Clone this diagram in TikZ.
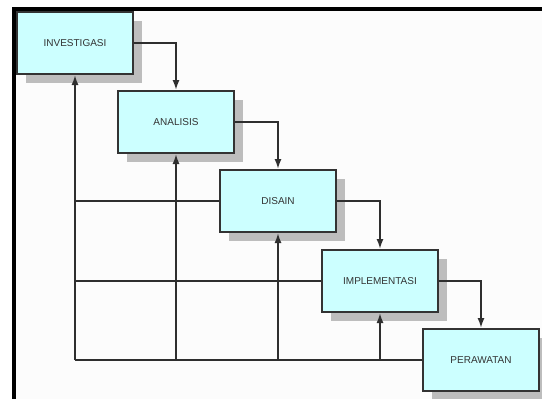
\documentclass[tikz,border=0pt]{standalone}
\usepackage{fontspec}
\setmainfont{Liberation Sans}
\usetikzlibrary{arrows.meta}
\definecolor{boxfill}{HTML}{CCFFFF}
\definecolor{boxline}{HTML}{333333}
\definecolor{shadowc}{HTML}{BDBDBD}
\definecolor{linec}{HTML}{2E2E2E}
\definecolor{txtc}{HTML}{333333}
\tikzset{
  phase/.style={draw=boxline, line width=2pt, fill=boxfill, minimum width=116pt, minimum height=62pt,
    inner sep=0pt, font=\fontsize{10}{12}\selectfont, text=txtc},
  conn/.style={draw=linec, line width=1.7pt},
  arr/.style={conn, -{Latex[length=10pt,width=7pt]}},
  jdot/.style={circle, fill=linec, inner sep=0pt, minimum size=3.5pt}
}
\begin{document}
\begin{tikzpicture}[x=1pt,y=-1pt]
\useasboundingbox (0,0) rectangle (542,399);
\clip (0,0) rectangle (542,399);
\fill[white] (0,0) rectangle (542,399);
\fill[black!1] (14,9) rectangle (542,399);
\draw[black, line width=4pt] (14,399) -- (14,9) -- (542,9);
% shadows
\foreach \cx/\cy in {75/43, 176/122, 278/201, 380/281, 481/360}{
  \fill[shadowc] (\cx-58+9,\cy-31+9) rectangle (\cx+58+9,\cy+31+9);
}
% boxes
\node[phase] (inv) at (75,43) {INVESTIGASI};
\node[phase] (ana) at (176,122) {ANALISIS};
\node[phase] (dis) at (278,201) {DISAIN};
\node[phase] (imp) at (380,281) {IMPLEMENTASI};
\node[phase] (per) at (481,360) {PERAWATAN};
% forward arrows
\draw[arr] (inv.east) -| (ana.north);
\draw[arr] (ana.east) -| (dis.north);
\draw[arr] (dis.east) -| (imp.north);
\draw[arr] (imp.east) -| (per.north);
% feedback lines
\coordinate (b1) at (inv.south |- per.west);
\coordinate (b2) at (ana.south |- per.west);
\coordinate (b3) at (dis.south |- per.west);
\coordinate (b4) at (imp.south |- per.west);
\draw[conn] (per.west) -- (b1);
\draw[conn] (b1 |- dis.west) -- (dis.west);
\draw[conn] (b1 |- imp.west) -- (imp.west);
\draw[arr] (b1) -- (inv.south);
\draw[arr] (b2) -- (ana.south);
\draw[arr] (b3) -- (dis.south);
\draw[arr] (b4) -- (imp.south);
\node[jdot] (j1) at (ana.south |- dis.west) {};
\node[jdot] (j2) at (ana.south |- imp.west) {};
\node[jdot] (j3) at (dis.south |- imp.west) {};
\end{tikzpicture}
\end{document}
